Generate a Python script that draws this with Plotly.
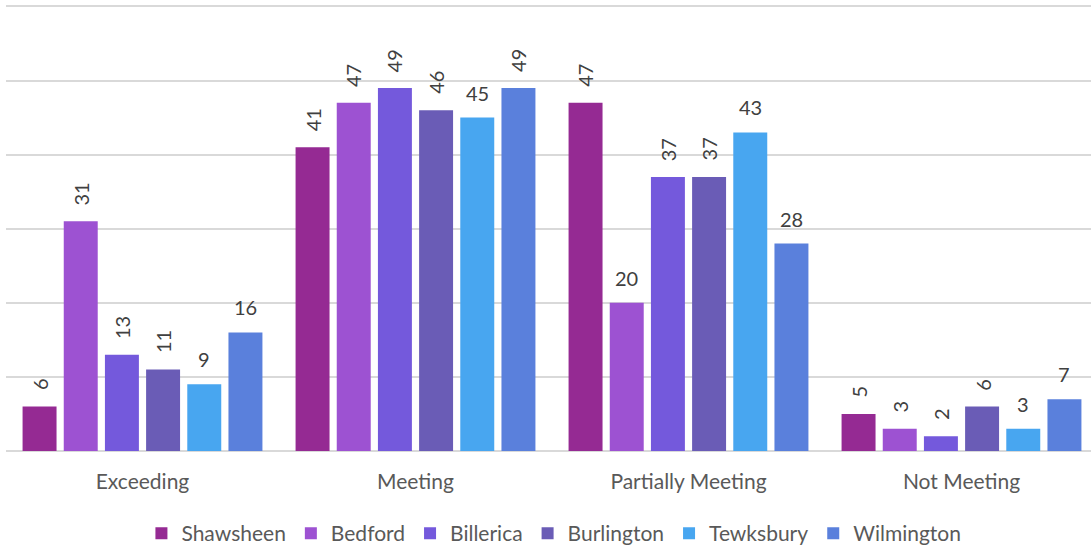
import plotly.graph_objects as go

categories = ["Exceeding", "Meeting", "Partially Meeting", "Not Meeting"]
series_names = ["Shawsheen", "Bedford", "Billerica", "Burlington", "Tewksbury", "Wilmington"]
shawsheen = [6, 41, 47, 5]
bedford = [31, 47, 20, 3]
billerica = [13, 49, 37, 2]
burlington = [11, 46, 37, 6]
tewksbury = [9, 45, 43, 3]
wilmington = [16, 49, 28, 7]
series_values = [shawsheen, bedford, billerica, burlington, tewksbury, wilmington]
# which data labels Excel drew horizontally (others rotated)
horizontal_labels = [
    [False, False, False, False],
    [False, False, True, False],
    [False, False, False, False],
    [False, False, False, False],
    [True, True, True, True],
    [True, False, True, True],
]
colors = ["#952a93", "#9d52d2", "#7459dc", "#6a5cb6", "#48a6f0", "#5a80dc"]

BARGAP = 0.095
BARGROUPGAP = 0.175
FONT = "Lato"

fig = go.Figure()
xs = list(range(len(categories)))
for name, vals, col in zip(series_names, series_values, colors):
    fig.add_trace(go.Bar(x=xs, y=vals, name=name, marker=dict(color=col, line=dict(width=0))))

slot = (1 - BARGAP) / len(series_names)
for i, (vals, horiz) in enumerate(zip(series_values, horizontal_labels)):
    for j, v in enumerate(vals):
        fig.add_annotation(
            x=j + (i - (len(series_names) - 1) / 2) * slot, y=v,
            xref="x", yref="y", text=str(v), showarrow=False,
            textangle=0 if horiz[j] else -90,
            xanchor="center", yanchor="bottom",
            yshift=11 if horiz[j] else 14,
            font=dict(family=FONT, size=20, color="#404040"),
        )

fig.update_layout(
    width=1091, height=550,
    margin=dict(l=6, r=0, t=5, b=99),
    paper_bgcolor="white", plot_bgcolor="white",
    barmode="group", bargap=BARGAP, bargroupgap=BARGROUPGAP,
    showlegend=True,
    legend=dict(orientation="h", x=0.505, xanchor="center", yref="container", y=0.03, yanchor="middle",
                font=dict(family=FONT, size=21, color="#595959"), itemwidth=30),
    font=dict(family=FONT),
)
fig.update_xaxes(
    range=[-0.5, -0.5 + 1085 / 273], tickvals=xs, ticktext=categories,
    ticks="outside", ticklen=12, tickcolor="rgba(0,0,0,0)",
    tickfont=dict(family=FONT, size=21, color="#595959"),
    showgrid=False, showline=False, zeroline=False, fixedrange=True,
)
fig.update_yaxes(
    range=[0, 60.2], dtick=10, showticklabels=False, ticks="",
    showgrid=True, gridcolor="#d9d9d9", gridwidth=1.5,
    zeroline=True, zerolinecolor="#d9d9d9", zerolinewidth=1.5, showline=False,
)
fig.write_html("out.html")
